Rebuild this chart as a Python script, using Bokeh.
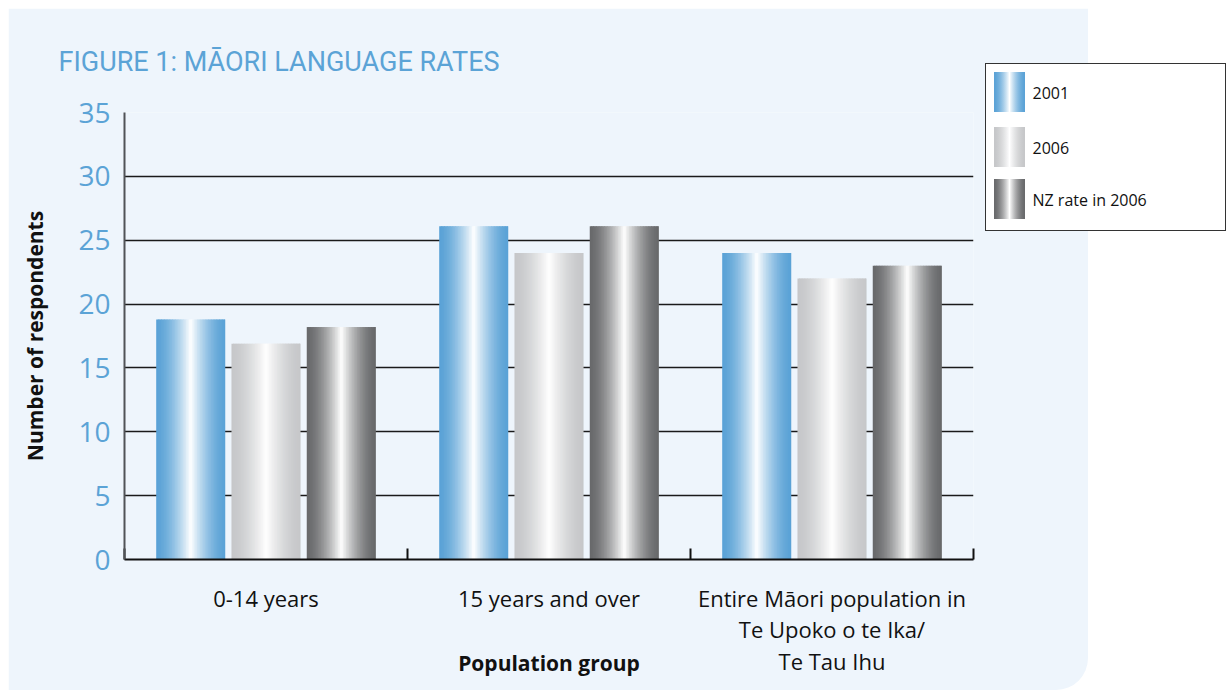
from bokeh.plotting import figure
from bokeh.models import Range1d, FixedTicker, ColumnDataSource, Div
from bokeh.layouts import row
from bokeh.embed import file_html
from bokeh.resources import INLINE

# ---------------- data ----------------
categories = ["0-14 years", "15 years and over",
              "Entire Māori population in\nTe Upoko o te Ika/\nTe Tau Ihu"]
series = ["2001", "2006", "NZ rate in 2006"]
values_2001 = [18.8, 26.1, 24.0]
values_2006 = [16.9, 24.0, 22.0]
values_nz = [18.2, 26.1, 23.0]
y_ticks = [0, 5, 10, 15, 20, 25, 30, 35]

title_text = "FIGURE 1: MĀORI LANGUAGE RATES"
x_title = "Population group"
y_title = "Number of respondents"

# ---------------- style ----------------
PANEL = "#eef5fc"
BLUE_TXT = "#5ba3d6"
edge_colors = ["#5aa2d6", "#c6c7c9", "#68696b"]
FONT = "Open Sans"

def hex2rgb(h):
    h = h.lstrip("#")
    return tuple(int(h[i:i + 2], 16) for i in (0, 2, 4))

def shade(edge, u):
    r, g, b = hex2rgb(edge)
    t = (1 - abs(u)) ** 1.6
    return "#%02x%02x%02x" % (round(r + (255 - r) * t), round(g + (255 - g) * t), round(b + (255 - b) * t))

W, H = 1080, 682
ML, MR, MT, MB = 116, 115, 104, 131

p = figure(width=W, height=H, output_backend="svg", toolbar_location=None,
           x_range=Range1d(0, 3), y_range=Range1d(0, 35),
           min_border_left=ML, min_border_right=MR, min_border_top=MT, min_border_bottom=MB,
           border_fill_color=PANEL, background_fill_color=PANEL, outline_line_color=None,
           align="start", margin=(8, 0, 0, 8),
           styles={"border-bottom-right-radius": "32px", "overflow": "hidden"})

# ---------------- title ----------------
p.title.text = title_text
p.title.text_font = "Roboto"
p.title.text_font_size = "27px"
p.title.text_font_style = "normal"
p.title.text_color = BLUE_TXT
p.title.align = "left"
p.title.offset = -66
p.title.standoff = 70

# ---------------- bars as gradient strips ----------------
offsets = [-0.266, 0.0, 0.266]
bar_w = 0.244
N = 44
all_vals = [values_2001, values_2006, values_nz]
L, R, T, C = [], [], [], []
for j, vals in enumerate(all_vals):
    for i, v in enumerate(vals):
        c = i + 0.5 + offsets[j]
        left0 = c - bar_w / 2
        sw = bar_w / N
        for k in range(N):
            u = ((k + 0.5) / N) * 2 - 1
            l = left0 + k * sw
            r = min(l + sw * 1.7, left0 + bar_w)
            L.append(l); R.append(r); T.append(v); C.append(shade(edge_colors[j], u))
src = ColumnDataSource(dict(left=L, right=R, top=T, bottom=[0] * len(L), color=C))
p.quad(left="left", right="right", top="top", bottom="bottom", source=src,
       fill_color="color", line_color=None)

# ---------------- axes ----------------
xa = p.xaxis[0]
xa.ticker = FixedTicker(ticks=[0.5, 1.5, 2.5], minor_ticks=[0, 1, 2, 3])
xa.major_label_overrides = {0.5: categories[0], 1.5: categories[1], 2.5: categories[2]}
xa.major_tick_line_color = None
xa.major_tick_in = 0
xa.major_tick_out = 0
xa.minor_tick_in = 11
xa.minor_tick_out = 0
xa.minor_tick_line_color = "#111111"
xa.minor_tick_line_width = 2
xa.axis_line_color = "#111111"
xa.axis_line_width = 2
xa.major_label_text_font = FONT
xa.major_label_text_font_size = "22px"
xa.major_label_text_color = "#111111"
xa.major_label_text_line_height = 1.05
xa.major_label_standoff = 23
xa.axis_label = x_title
xa.axis_label_text_font = FONT
xa.axis_label_text_font_style = "bold"
xa.axis_label_text_font_size = "21px"
xa.axis_label_text_color = "#111111"
xa.axis_label_standoff = -30

ya = p.yaxis[0]
ya.ticker = FixedTicker(ticks=y_ticks)
ya.major_tick_line_color = None
ya.major_tick_in = 0
ya.major_tick_out = 0
ya.minor_tick_line_color = None
ya.axis_line_color = "#505357"
ya.axis_line_width = 2
ya.major_label_text_font = FONT
ya.major_label_text_font_size = "28px"
ya.major_label_text_color = BLUE_TXT
ya.major_label_standoff = 14
ya.axis_label = y_title
ya.axis_label_text_font = FONT
ya.axis_label_text_font_style = "bold"
ya.axis_label_text_font_size = "21px"
ya.axis_label_text_color = "#111111"
ya.axis_label_standoff = 26

p.xgrid.grid_line_color = None
p.ygrid.ticker = FixedTicker(ticks=y_ticks)
p.ygrid.grid_line_color = "#1a1a1a"
p.ygrid.grid_line_width = 1.5

# ---------------- legend (HTML box overlapping the panel edge) ----------------
def css_gradient(edge):
    stops = []
    for s in range(21):
        u = s / 10 - 1
        stops.append("%s %.1f%%" % (shade(edge, u), (u + 1) * 50))
    return "linear-gradient(to right, " + ", ".join(stops) + ")"

sw_top = [7.5, 62.5, 114.5]
items = []
for j, name in enumerate(series):
    items.append(
        '<div style="position:absolute;left:7.5px;top:%.1fpx;width:31px;height:40px;background:%s;"></div>'
        % (sw_top[j], css_gradient(edge_colors[j])))
    items.append(
        '<div style="position:absolute;left:46.5px;top:%.1fpx;height:40px;line-height:40px;'
        'white-space:nowrap;">%s</div>' % (sw_top[j] + 1, name))
legend_html = (
    '<div style="position:relative;width:241px;height:168px;box-sizing:border-box;'
    'border:1.5px solid #333333;background:#ffffff;font-family:\'Open Sans\';'
    'font-size:16px;color:#111111;">' + "".join(items) + "</div>")

leg = Div(text=legend_html, width=241, height=168, margin=0,
          styles={"position": "absolute", "left": "985px", "top": "63px"})

layout = row(p, leg)

open("out.html", "w").write(file_html(layout, INLINE))
